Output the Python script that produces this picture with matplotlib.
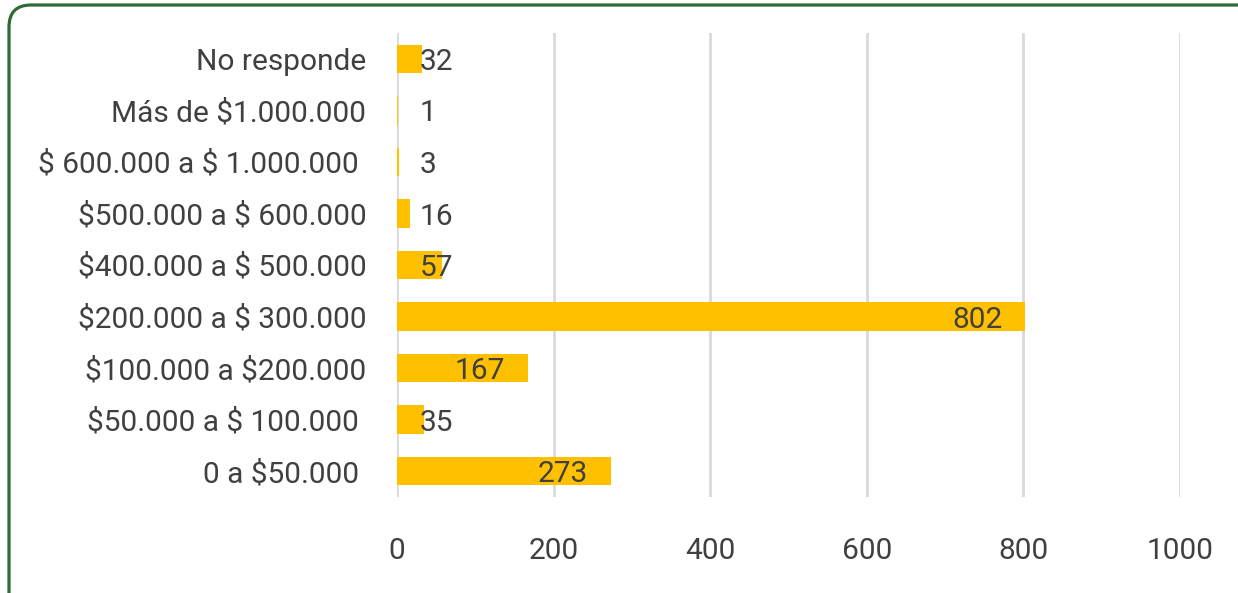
import matplotlib
matplotlib.use("Agg")
import matplotlib.pyplot as plt
from matplotlib.patches import FancyBboxPatch

categorias = ['No responde', 'Más de $1.000.000', '$ 600.000 a $ 1.000.000 ',
              '$500.000 a $ 600.000', '$400.000 a $ 500.000', '$200.000 a $ 300.000',
              '$100.000 a $200.000', '$50.000 a $ 100.000 ', '0 a $50.000 ']
valores = [32, 1, 3, 16, 57, 802, 167, 35, 273]
ticks_x = [0, 200, 400, 600, 800, 1000]

plt.rcParams['font.family'] = ['Roboto', 'DejaVu Sans']
plt.rcParams['text.parse_math'] = False
gris = '#404040'
oro = '#FFC000'
tam = 21.5

W, H = 1238, 593
fig = plt.figure(figsize=(W / 100, H / 100), dpi=100)
ax = fig.add_axes([397 / W, 1 - 497 / H, (1180 - 397) / W, (497 - 33) / H])

y = list(range(len(categorias)))
ax.barh(y, valores, height=0.55, color=oro, zorder=2)
ax.set_xlim(0, 1000)
ax.set_ylim(len(categorias) - 0.5, -0.5)

for yi, v in zip(y, valores):
    if v > 100:
        ax.text(v - 29, yi + 0.06, str(v), ha='right', va='center', fontsize=tam, color=gris, zorder=3)
    else:
        ax.text(29, yi + 0.06, str(v), ha='left', va='center', fontsize=tam, color=gris, zorder=3)

ax.set_yticks(y)
ax.set_yticklabels(categorias)
ax.set_xticks(ticks_x)
ax.set_xticklabels([str(t) for t in ticks_x])
ax.tick_params(axis='y', length=0, pad=22, labelsize=tam, labelcolor=gris)
ax.tick_params(axis='x', length=0, pad=29, labelsize=tam, labelcolor=gris)
ax.grid(axis='x', color='#d9d9d9', linewidth=2, zorder=0)
for s in ax.spines.values():
    s.set_visible(False)

# marco verde redondeado (en pulgadas para que la esquina sea circular)
marco = FancyBboxPatch((0.09, -0.3), 12.8, 6.3 - 0.09 - 0.03,
                       boxstyle='round,pad=0,rounding_size=0.22', transform=fig.dpi_scale_trans,
                       facecolor='none', edgecolor='#2e6b35', linewidth=2.3, clip_on=False)
fig.patches.append(marco)

fig.savefig('out.png', dpi=100)
